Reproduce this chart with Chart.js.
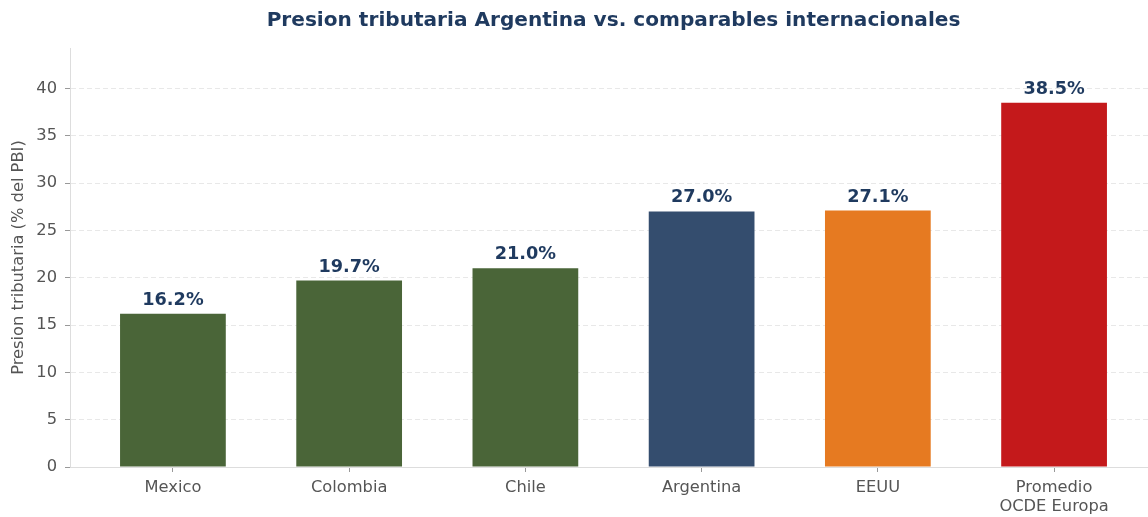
<!DOCTYPE html>
<html>
<head>
<meta charset="utf-8">
<script src="https://cdn.jsdelivr.net/npm/chart.js@4.4.1/dist/chart.umd.min.js"></script>
<style>
html,body{margin:0;padding:0;background:#fff;overflow:hidden;}
#wrap{width:1160px;height:517px;}
</style>
</head>
<body>
<div id="wrap"><canvas id="c" width="1160" height="517"></canvas></div>
<script>
const categories = ["Mexico", "Colombia", "Chile", "Argentina", "EEUU", ["Promedio", "OCDE Europa"]];
const values = [16.2, 19.7, 21.0, 27.0, 27.1, 38.5];
const barColors = ["#4a6538", "#4a6538", "#4a6538", "#344d6e", "#e67a21", "#c4191b"];
const yTicks = [0, 5, 10, 15, 20, 25, 30, 35, 40];
const titleText = "Presion tributaria Argentina vs. comparables internacionales";
const yTitle = "Presion tributaria (% del PBI)";

const FONT = "'DejaVu Sans', sans-serif";
const NAVY = "#1f3a5f";

const labelPlugin = {
  id: 'barLabels',
  afterDatasetsDraw(chart) {
    const ctx = chart.ctx;
    const meta = chart.getDatasetMeta(0);
    ctx.save();
    ctx.font = "bold 17.7px " + FONT;
    ctx.fillStyle = NAVY;
    ctx.textAlign = 'center';
    ctx.textBaseline = 'alphabetic';
    meta.data.forEach((bar, i) => {
      ctx.fillText(values[i].toFixed(1) + '%', bar.x, bar.y - 9);
    });
    ctx.restore();
  }
};

new Chart(document.getElementById('c'), {
  type: 'bar',
  data: {
    datasets: [{
      data: values.map((v, i) => ({x: i, y: v})),
      backgroundColor: barColors,
      borderWidth: 0,
      barPercentage: 0.6,
      categoryPercentage: 1.0
    }]
  },
  options: {
    responsive: false,
    animation: false,
    devicePixelRatio: 1,
    layout: {padding: {left: 0, right: 3, top: 0, bottom: 0}},
    plugins: {
      legend: {display: false},
      tooltip: {enabled: false},
      title: {
        display: true,
        text: titleText,
        fullSize: false,
        color: NAVY,
        font: {family: FONT, size: 20.1, weight: 'bold', lineHeight: 1.2},
        padding: {top: 9, bottom: 14.9}
      }
    },
    scales: {
      x: {
        type: 'linear',
        offset: false,
        min: -0.584,
        max: 5.584,
        afterFit: s => { s.height = 50; },
        afterBuildTicks: s => { s.ticks = categories.map((_, i) => ({value: i})); },
        ticks: {
          includeBounds: false,
          autoSkip: false,
          maxRotation: 0,
          padding: 6,
          color: '#555',
          font: {family: FONT, size: 16.3, lineHeight: 1.17},
          callback: v => categories[v]
        },
        grid: {display: true, offset: false, drawOnChartArea: false, drawTicks: true, tickLength: 5, tickColor: '#999', tickWidth: 1},
        border: {display: true, color: '#dddddd', width: 1}
      },
      y: {
        min: 0,
        max: 44.275,
        afterFit: s => { s.width = 70; },
        afterBuildTicks: s => { s.ticks = yTicks.map(v => ({value: v})); },
        ticks: {
          includeBounds: false,
          padding: 8,
          color: '#555',
          font: {family: FONT, size: 16.3}
        },
        grid: {
          display: true,
          color: c => c.tick && c.tick.value === 0 ? 'rgba(0,0,0,0)' : '#e8e8e8',
          lineWidth: 1,
          drawTicks: true,
          tickLength: 5,
          tickColor: '#999',
          tickWidth: 1
        },
        border: {display: true, color: '#dddddd', width: 1, dash: [5, 3]},
        title: {
          display: true,
          text: yTitle,
          color: '#555',
          font: {family: FONT, size: 16.3, lineHeight: 1.2},
          padding: {top: 9, bottom: 0}
        }
      }
    }
  },
  plugins: [labelPlugin]
});
</script>
</body>
</html>
